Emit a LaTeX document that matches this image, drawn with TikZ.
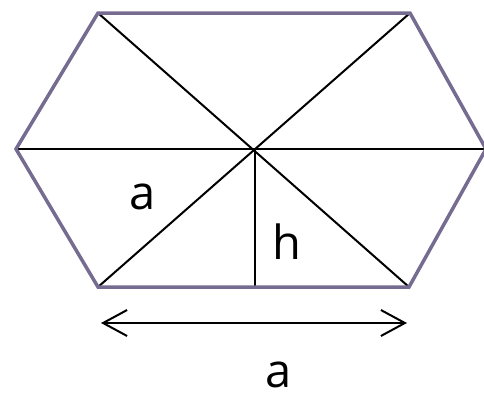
\documentclass[tikz,border=0pt]{standalone}
\usepackage{fontspec}
\setmainfont{Open Sans}
\usetikzlibrary{arrows.meta}
\definecolor{hexedge}{RGB}{118,108,145}
\tikzset{
  rim/.style={draw=hexedge, line width=3.5pt, line join=miter},
  spoke/.style={draw=black, line width=2pt},
  lbl/.style={font=\fontsize{47}{47}\selectfont, inner sep=0pt, text depth=0pt, anchor=base},
  span/.style={draw=black, line width=2pt, {Straight Barb[length=24pt,width=26pt,line width=2pt]}-{Straight Barb[length=24pt,width=26pt,line width=2pt]}},
}
\begin{document}
\begin{tikzpicture}[x=1pt,y=-1pt]
  \useasboundingbox (0,0) rectangle (484,399);
  % hexagon corners
  \coordinate (TL) at (98,13);
  \coordinate (TR) at (410,13);
  \coordinate (R) at (486,149);
  \coordinate (BR) at (409,287);
  \coordinate (BL) at (98,287);
  \coordinate (L) at (16,149);
  \coordinate (O) at (255,150);
  \coordinate (F) at (255,287);
  % spokes
  \draw[spoke] (L) -- (R);
  \draw[spoke] (TL) -- (BR);
  \draw[spoke] (TR) -- (BL);
  \draw[spoke] (O) -- (F);
  \draw[rim] (TL) -- (TR) -- (R) -- (BR) -- (BL) -- (L) -- cycle;
  % side length
  \coordinate (A1) at (101,323);
  \coordinate (A2) at (407,323);
  \draw[span] (A1) -- (A2);
  \node[lbl] (side) at (143,209) {a};
  \node[lbl] (height) at (287,259) {h};
  \node[lbl] (base) at (279,387) {a};
\end{tikzpicture}
\end{document}
